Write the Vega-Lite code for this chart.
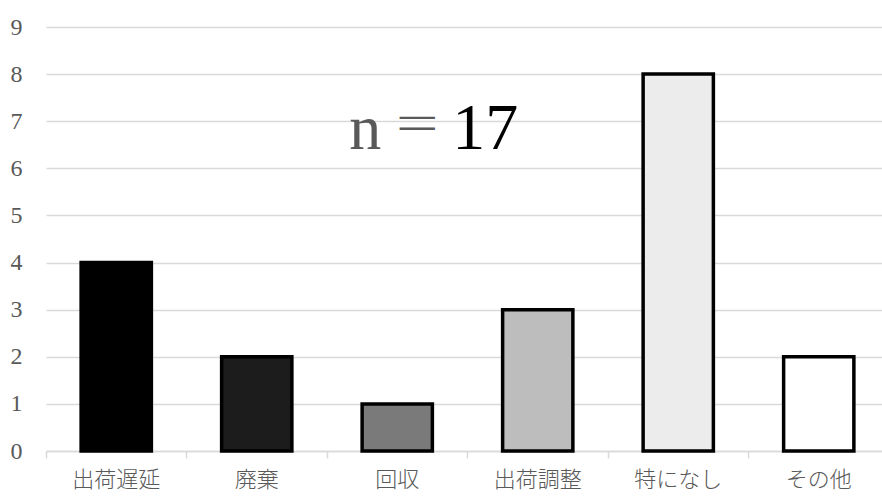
{
  "$schema": "https://vega.github.io/schema/vega-lite/v6.json",
  "autosize": "none",
  "width": 843,
  "height": 424,
  "padding": {"left": 46, "top": 27, "right": 0, "bottom": 47},
  "background": "white",
  "config": {"view": {"stroke": null}, "font": "Liberation Serif"},
  "datasets": {
    "bars": [
      {"category": "出荷遅延", "count": 4, "fill": "#000000"},
      {"category": "廃棄", "count": 2, "fill": "#1c1c1c"},
      {"category": "回収", "count": 1, "fill": "#7a7a7a"},
      {"category": "出荷調整", "count": 3, "fill": "#bdbdbd"},
      {"category": "特になし", "count": 8, "fill": "#ececec"},
      {"category": "その他", "count": 2, "fill": "#ffffff"}
    ],
    "note": [
      {"category": "回収", "y": 6.4, "n": "n", "eq": "＝", "num": "17"}
    ]
  },
  "layer": [
    {
      "data": {"name": "bars"},
      "mark": {"type": "bar", "stroke": "#000000", "strokeWidth": 3.5, "width": {"band": 0.5}},
      "encoding": {
        "x": {
          "field": "category", "type": "nominal", "sort": null,
          "scale": {"paddingInner": 0, "paddingOuter": 0},
          "axis": {
            "title": null, "labelAngle": 0, "labelFontSize": 22, "labelColor": "#595959",
            "labelFont": "Noto Sans CJK JP", "labelFontWeight": 300,
            "bandPosition": 0, "tickColor": "#d9d9d9", "tickWidth": 1.5, "tickSize": 7,
            "domainColor": "#d9d9d9", "domainWidth": 1.5, "labelPadding": 11, "grid": false
          }
        },
        "y": {
          "field": "count", "type": "quantitative",
          "scale": {"domain": [0, 9]},
          "axis": {
            "title": null, "values": [0,1,2,3,4,5,6,7,8,9], "labelFontSize": 24, "labelColor": "#595959",
            "labelFont": "Liberation Serif",
            "ticks": false, "domain": false, "labelPadding": 24, "gridColor": "#d9d9d9", "gridWidth": 1.5
          }
        },
        "fill": {"field": "fill", "type": "nominal", "scale": null}
      }
    },
    {
      "data": {"name": "note"},
      "mark": {"type": "text", "align": "left", "baseline": "alphabetic", "fontSize": 64, "color": "#595959", "dx": -48, "font": "Liberation Serif"},
      "encoding": {
        "x": {"field": "category", "type": "nominal", "sort": null},
        "y": {"field": "y", "type": "quantitative"},
        "text": {"field": "n"}
      }
    },
    {
      "data": {"name": "note"},
      "mark": {"type": "text", "align": "center", "baseline": "middle", "fontSize": 48, "color": "#595959", "dx": 20, "dy": -22, "font": "Noto Sans CJK JP", "fontWeight": 300},
      "encoding": {
        "x": {"field": "category", "type": "nominal", "sort": null},
        "y": {"field": "y", "type": "quantitative"},
        "text": {"field": "eq"}
      }
    },
    {
      "data": {"name": "note"},
      "mark": {"type": "text", "align": "left", "baseline": "alphabetic", "fontSize": 66, "color": "#000000", "dx": 55, "font": "Liberation Serif"},
      "encoding": {
        "x": {"field": "category", "type": "nominal", "sort": null},
        "y": {"field": "y", "type": "quantitative"},
        "text": {"field": "num"}
      }
    }
  ]
}
